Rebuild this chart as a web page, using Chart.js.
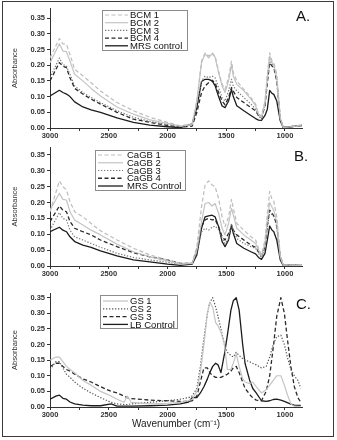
<!DOCTYPE html>
<html>
<head>
<meta charset="utf-8">
<script src="https://cdn.jsdelivr.net/npm/chart.js@4.4.1/dist/chart.umd.min.js"></script>
<style>
  body { margin: 0; background: #fff; }
  #frame { position: absolute; left: 2px; top: 1px; width: 332px; height: 436px; border: 1px solid #3a3a3a; box-sizing: border-box; }
  canvas { position: absolute; left: 0; }
  .tag { position: absolute; font: 15px Arial, "Liberation Sans", sans-serif; line-height: 15px; color: #111; }
</style>
</head>
<body>
<div id="frame"></div>
<canvas id="chartA" width="337" height="140" style="top:0"></canvas>
<canvas id="chartB" width="337" height="140" style="top:140px"></canvas>
<canvas id="chartC" width="337" height="160" style="top:280px"></canvas>
<div class="tag" style="left:296px;top:8px">A.</div>
<div class="tag" style="left:294px;top:148px">B.</div>
<div class="tag" style="left:296px;top:296px">C.</div>
<script>
// wavenumbers (cm-1) shared by panels A and B
const WN_AB = [3000, 2920, 2890, 2860, 2830, 2790, 2720, 2650, 2570, 2430, 2290, 2150, 2000, 1890, 1790,
  1750, 1710, 1680, 1650, 1620, 1595, 1565, 1535, 1510, 1480, 1455, 1440, 1410, 1350, 1290,
  1250, 1225, 1200, 1170, 1150, 1130, 1110, 1095, 1070, 1040, 1015, 955, 900, 855];

// panel A
const LABELS_A = ["BCM 1", "BCM 2", "BCM 3", "BCM 4", "MRS control"];
const BCM_1 = [.223, .285, .268, .266, .234, .187, .166, .144, .118, .081, .055, .034, .018, .007, .013,
  .086, .213, .239, .229, .239, .229, .181, .139, .123, .16, .213, .176, .15, .123, .097,
  .076, .044, .039, .086, .171, .239, .213, .208, .171, .034, .002, .004, .006, .01];
const BCM_2 = [.208, .268, .245, .243, .213, .171, .15, .126, .102, .067, .044, .026, .015, .006, .011,
  .086, .208, .236, .223, .236, .226, .176, .134, .113, .15, .202, .165, .139, .118, .092,
  .071, .044, .034, .081, .165, .229, .208, .202, .16, .032, .002, .004, .006, .01];
const BCM_3 = [.16, .223, .202, .197, .171, .134, .113, .097, .081, .055, .034, .021, .011, .004, .01,
  .076, .15, .165, .16, .165, .16, .129, .097, .086, .118, .155, .134, .118, .097, .076,
  .06, .039, .028, .076, .15, .218, .202, .197, .155, .028, .002, .004, .006, .01];
const BCM_4 = [.15, .208, .197, .192, .16, .126, .108, .092, .076, .05, .028, .018, .008, .003, .006,
  .05, .113, .134, .144, .152, .144, .113, .086, .074, .097, .129, .118, .097, .081, .065,
  .055, .039, .032, .071, .144, .208, .197, .192, .15, .03, .002, .004, .006, .01];
const MRS_A = [.102, .12, .113, .108, .1, .083, .067, .058, .05, .032, .018, .009, .004, .001, .013,
  .065, .148, .155, .155, .15, .135, .1, .07, .065, .086, .123, .1, .071, .055, .04,
  .03, .025, .024, .04, .06, .12, .11, .107, .086, .023, .002, .004, .006, .008];

// panel B
const LABELS_B = ["CaGB 1", "CaGB 2", "CaGB 3", "CaGB 4", "MRS Control"];
const CAGB_1 = [.171, .268, .25, .24, .203, .171, .155, .134, .111, .082, .056, .035, .019, .008, .01,
  .061, .187, .255, .268, .255, .25, .213, .155, .124, .155, .21, .182, .134, .113, .092,
  .082, .056, .035, .082, .166, .235, .21, .205, .155, .035, .003, .003, .002, .002];
const CAGB_2 = [.176, .229, .21, .208, .171, .145, .129, .113, .098, .069, .045, .029, .016, .006, .008,
  .05, .14, .197, .2, .189, .197, .166, .119, .098, .134, .182, .161, .119, .098, .082,
  .071, .05, .032, .071, .145, .2, .185, .175, .14, .029, .003, .003, .002, .002];
const CAGB_3 = [.113, .168, .15, .145, .113, .092, .082, .071, .059, .04, .027, .019, .012, .005, .008,
  .045, .108, .119, .113, .122, .126, .115, .087, .071, .087, .134, .113, .087, .071, .061,
  .056, .04, .027, .056, .119, .171, .161, .155, .124, .024, .003, .003, .002, .002];
const CAGB_4 = [.14, .189, .176, .171, .14, .119, .108, .098, .082, .061, .042, .029, .019, .008, .008,
  .05, .124, .145, .15, .145, .147, .124, .092, .082, .103, .124, .113, .098, .082, .066,
  .059, .045, .032, .061, .129, .176, .166, .158, .129, .029, .003, .003, .002, .002];
const MRS_B = [.108, .122, .113, .108, .092, .077, .066, .059, .048, .032, .019, .013, .006, .002, .006,
  .035, .119, .155, .158, .16, .155, .124, .077, .061, .082, .129, .103, .071, .056, .045,
  .038, .027, .021, .04, .082, .126, .113, .108, .082, .019, .002, .003, .002, .002];

// panel C
const WN_C = [3000, 2950, 2920, 2890, 2860, 2830, 2790, 2720, 2650, 2570, 2480, 2430, 2370, 2340, 2310,
  2150, 2000, 1890, 1820, 1790, 1750, 1720, 1690, 1660, 1640, 1615, 1590, 1570, 1545, 1515,
  1490, 1460, 1440, 1415, 1390, 1360, 1340, 1300, 1275, 1245, 1200, 1160, 1130, 1100, 1070,
  1035, 1005, 980, 950, 920, 890, 865];
const LABELS_C = ["GS 1", "GS 2", "GS 3", "LB Control"];
const GS_1 = [.15, .16, .16, .145, .13, .12, .11, .085, .07, .05, .035, .025, .015, .035, .015,
  .01, .012, .015, .02, .025, .05, .11, .2, .3, .335, .32, .27, .26, .24, .2,
  .12, .12, .14, .17, .13, .09, .08, .075, .08, .065, .045, .055, .07, .085, .1,
  .1, .07, .04, .01, .002, .002, .002];
const GS_2 = [.12, .145, .145, .125, .105, .095, .08, .06, .045, .03, .015, .01, .008, .008, .01,
  .015, .02, .025, .03, .035, .06, .13, .22, .3, .335, .35, .32, .29, .25, .2,
  .175, .165, .16, .175, .165, .155, .15, .145, .14, .135, .125, .13, .16, .2, .225,
  .23, .2, .16, .12, .1, .085, .06];
const GS_3 = [.13, .14, .14, .13, .12, .115, .105, .09, .08, .065, .05, .045, .035, .03, .027,
  .022, .02, .018, .018, .02, .035, .08, .125, .125, .11, .1, .095, .095, .095, .1,
  .105, .115, .125, .13, .11, .08, .06, .04, .03, .022, .02, .05, .1, .19, .29,
  .35, .3, .22, .13, .065, .03, .015];
const LB_C = [.025, .035, .038, .028, .025, .016, .01, .006, .004, .004, .01, .003, .003, .003, .003,
  .004, .006, .01, .016, .03, .03, .045, .065, .09, .11, .13, .14, .135, .11, .17,
  .23, .31, .34, .35, .31, .2, .14, .085, .06, .045, .02, .018, .02, .024, .025,
  .022, .018, .014, .009, .006, .005, .005];

const Y_TICKS = [0, 0.05, 0.10, 0.15, 0.20, 0.25, 0.30, 0.35];
const X_TICKS = [1000, 1250, 1500, 1750, 2000, 2250, 2500, 2750, 3000];

const lightDash = { borderColor: "#bdbdbd", borderDash: [4, 2.5], borderWidth: 1.2 };
const lightSolid = { borderColor: "#c4c4c4", borderWidth: 1.2 };
const dotted = { borderColor: "#777", borderDash: [1.3, 1.7], borderWidth: 1.2 };
const darkDash = { borderColor: "#2a2a2a", borderDash: [4, 2.5], borderWidth: 1.3 };
const darkSolid = { borderColor: "#1c1c1c", borderWidth: 1.3 };

const FONT = 'Arial, "Liberation Sans", sans-serif';
const tickFont = { family: FONT, size: 7.5, weight: "bold" };
const AXIS = "#333";

// boxed legend drawn inside the plot, one row per dataset
const boxLegend = {
  id: "boxLegend",
  afterDraw(chart, args, o) {
    const ctx = chart.ctx;
    ctx.save();
    ctx.fillStyle = "#fff";
    ctx.fillRect(o.x, o.y, o.w, o.h);
    ctx.strokeStyle = "#8c8c8c";
    ctx.lineWidth = 1;
    ctx.strokeRect(o.x + 0.5, o.y + 0.5, o.w, o.h);
    ctx.font = "9.5px " + FONT;
    ctx.textBaseline = "middle";
    chart.data.datasets.forEach((ds, i) => {
      const y = o.y + o.first + i * o.row;
      ctx.strokeStyle = ds.borderColor;
      ctx.lineWidth = ds.borderWidth;
      ctx.setLineDash(ds.borderDash || []);
      ctx.beginPath();
      ctx.moveTo(o.x0, y);
      ctx.lineTo(o.x1, y);
      ctx.stroke();
      ctx.setLineDash([]);
      ctx.fillStyle = "#111";
      ctx.fillText(ds.label, o.textX, y + 0.5);
    });
    ctx.restore();
  }
};

function drawPanel(id, wn, labels, series, styles, cfg) {
  const datasets = series.map((vals, i) => Object.assign({
    label: labels[i],
    data: vals.map((v, j) => ({ x: wn[j], y: v })),
    pointRadius: 0,
    tension: 0,
    fill: false,
    borderJoinStyle: "round"
  }, styles[i]));

  return new Chart(document.getElementById(id), {
    type: "line",
    data: { datasets: datasets },
    options: {
      responsive: false,
      animation: false,
      events: [],
      layout: { padding: { top: cfg.top, right: 35, left: 0, bottom: 0 } },
      plugins: {
        legend: { display: false },
        tooltip: { enabled: false },
        boxLegend: cfg.legend
      },
      scales: {
        x: {
          type: "linear",
          reverse: true,
          min: 855,
          max: 3000,
          afterBuildTicks: (s) => { s.ticks = X_TICKS.map((v) => ({ value: v })); },
          afterFit: (s) => { s.height = cfg.xHeight; },
          ticks: {
            autoSkip: false,
            maxRotation: 0,
            padding: 0,
            color: AXIS,
            font: tickFont,
            callback: (v) => (v % 500 === 0 ? String(v) : "")
          },
          grid: { drawOnChartArea: false, tickLength: 3, color: AXIS },
          border: { color: AXIS, width: 1 },
          title: {
            display: !!cfg.xTitle,
            text: cfg.xTitle || "",
            color: "#222",
            font: { family: FONT, size: 10 },
            padding: { top: 0, bottom: 10 }
          }
        },
        y: {
          min: 0,
          max: cfg.yMax,
          afterBuildTicks: (s) => { s.ticks = Y_TICKS.map((v) => ({ value: v })); },
          afterFit: (s) => { s.width = 50; },
          ticks: {
            padding: 2,
            color: AXIS,
            font: tickFont,
            callback: (v) => v.toFixed(2)
          },
          grid: { drawOnChartArea: false, tickLength: 3, color: AXIS },
          border: { color: AXIS, width: 1 },
          title: {
            display: true,
            text: "Absorbance",
            color: "#333",
            font: { family: FONT, size: 7.5 },
            padding: { top: 10, bottom: 0 }
          }
        }
      }
    },
    plugins: [boxLegend]
  });
}

drawPanel("chartA", WN_AB, LABELS_A, [BCM_1, BCM_2, BCM_3, BCM_4, MRS_A],
  [lightDash, lightSolid, dotted, darkDash, darkSolid],
  { top: 8, xHeight: 12, yMax: 0.382,
    legend: { x: 102, y: 10, w: 85, h: 40, first: 5, row: 7.7, x0: 105, x1: 128, textX: 130 } });

drawPanel("chartB", WN_AB, LABELS_B, [CAGB_1, CAGB_2, CAGB_3, CAGB_4, MRS_B],
  [lightDash, lightSolid, dotted, darkDash, darkSolid],
  { top: 7, xHeight: 14, yMax: 0.375,
    legend: { x: 95, y: 10, w: 90, h: 40, first: 5, row: 7.75, x0: 98, x1: 123, textX: 127 } });

drawPanel("chartC", WN_C, LABELS_C, [GS_1, GS_2, GS_3, LB_C],
  [lightSolid, Object.assign({}, dotted, { borderColor: "#555" }), darkDash, darkSolid],
  { top: 13, xHeight: 33, yMax: 0.365, xTitle: "Wavenumber (cm\u207B\u00B9)",
    legend: { x: 100, y: 15, w: 77, h: 33, first: 6, row: 7.8, x0: 103, x1: 128, textX: 130 } });
</script>
</body>
</html>
